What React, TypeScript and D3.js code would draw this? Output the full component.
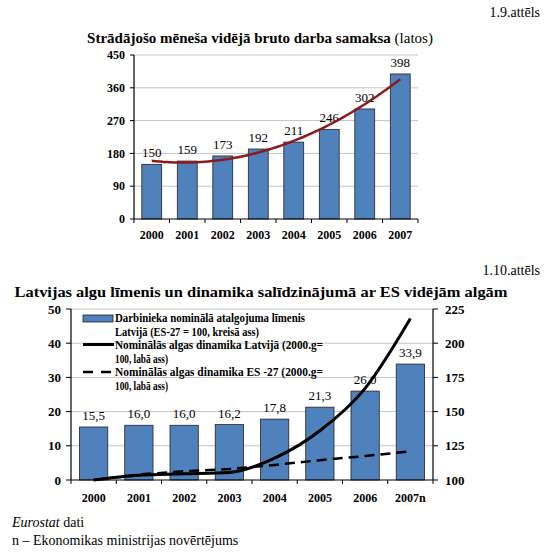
import * as d3 from 'd3';

// 1.9. attēls — vidējā bruto darba samaksa (latos)
const years = ['2000', '2001', '2002', '2003', '2004', '2005', '2006', '2007'];
const wages = [150, 159, 173, 192, 211, 246, 302, 398];
const wageTicks = [0, 90, 180, 270, 360, 450];

// 1.10. attēls — algu līmenis un dinamika
const years2 = ['2000', '2001', '2002', '2003', '2004', '2005', '2006', '2007n'];
const levelLv = [15.5, 16.0, 16.0, 16.2, 17.8, 21.3, 26.0, 33.9];
const dynLv = [100, 103.5, 104.5, 105.5, 116, 136, 167, 218];
const dynEu = [100, 104, 106.5, 108, 111, 114.5, 117.5, 121];
const leftTicks = [0, 10, 20, 30, 40, 50];
const rightTicks = [100, 125, 150, 175, 200, 225];

const legendLines = [
  'Darbinieka nominālā atalgojuma līmenis',
  'Latvijā (ES-27 = 100, kreisā ass)',
  'Nominālās algas dinamika Latvijā (2000.g=',
  '100, labā ass)',
  'Nominālās algas dinamika ES -27 (2000.g=',
  '100, labā ass)',
];

const serif = '"Liberation Serif", "Times New Roman", serif';
const barFill = '#4f81bd';
const gridColor = '#c4c4c4';

// quadratic least-squares trend (as Excel's polynomial trendline)
function quadFit(ys: number[]) {
  const s = [0, 0, 0, 0, 0];
  const t = [0, 0, 0];
  ys.forEach((v, x) => {
    for (let k = 0; k < 5; k++) s[k] += Math.pow(x, k);
    for (let k = 0; k < 3; k++) t[k] += Math.pow(x, k) * v;
  });
  const m = [
    [s[0], s[1], s[2], t[0]],
    [s[1], s[2], s[3], t[1]],
    [s[2], s[3], s[4], t[2]],
  ];
  for (let i = 0; i < 3; i++) {
    for (let j = i + 1; j < 3; j++) {
      const f = m[j][i] / m[i][i];
      for (let k = i; k < 4; k++) m[j][k] -= f * m[i][k];
    }
  }
  const c = [0, 0, 0];
  for (let i = 2; i >= 0; i--) {
    let v = m[i][3];
    for (let k = i + 1; k < 3; k++) v -= m[i][k] * c[k];
    c[i] = v / m[i][i];
  }
  return (x: number) => c[0] + c[1] * x + c[2] * x * x;
}

function TopChart() {
  const x = d3.scaleBand<string>().domain(years).range([134, 418]).paddingInner(0.44).paddingOuter(0.22);
  const y = d3.scaleLinear().domain([0, 450]).range([219, 55]);
  const fit = quadFit(wages);
  const step = x.step();
  const x0 = x(years[0])! + x.bandwidth() / 2;
  const trendPts = d3.range(0, years.length - 1 + 0.001, 0.1).map((i) => [x0 + i * step, y(fit(i))] as [number, number]);
  const trend = d3.line().curve(d3.curveMonotoneX)(trendPts)!;

  return (
    <g>
      <text x={540} y={17} textAnchor="end" fontSize={14} fontFamily={serif}>1.9.attēls</text>
      <text x={260} y={43} textAnchor="middle" fontSize={15} fontFamily={serif}>
        <tspan fontWeight="bold">Strādājošo mēneša vidējā bruto darba samaksa</tspan>
        <tspan> (latos)</tspan>
      </text>
      {wageTicks.map((t) => (
        <g key={t}>
          {t > 0 && <line x1={134} x2={418} y1={y(t)} y2={y(t)} stroke={gridColor} strokeWidth={1} />}
          <line x1={130} x2={134} y1={y(t)} y2={y(t)} stroke="#000" />
          <text x={125} y={y(t)} dy="0.35em" textAnchor="end" fontSize={12} fontWeight="bold" fontFamily={serif}>{t}</text>
        </g>
      ))}
      {years.map((yr, i) => (
        <g key={yr}>
          <rect x={x(yr)} y={y(wages[i])} width={x.bandwidth()} height={y(0) - y(wages[i])} fill={barFill} stroke="#222" strokeWidth={0.8} />
          <text x={x(yr)! + x.bandwidth() / 2} y={y(wages[i]) - 7} textAnchor="middle" fontSize={13} fontFamily={serif}>{wages[i]}</text>
          <text x={x(yr)! + x.bandwidth() / 2} y={239} textAnchor="middle" fontSize={12} fontWeight="bold" fontFamily={serif}>{yr}</text>
        </g>
      ))}
      <path d={trend} fill="none" stroke="#8b1a1a" strokeWidth={2.5} />
      <line x1={134} x2={134} y1={55} y2={219} stroke="#000" strokeWidth={1.2} />
      <line x1={134} x2={418} y1={219} y2={219} stroke="#000" strokeWidth={1.2} />
      {d3.range(years.length + 1).map((i) => (
        <line key={i} x1={134 + i * step} x2={134 + i * step} y1={219} y2={223} stroke="#000" />
      ))}
    </g>
  );
}

function BottomChart() {
  const x = d3.scaleBand<string>().domain(years2).range([71, 433]).paddingInner(0.375).paddingOuter(0.1875);
  const yL = d3.scaleLinear().domain([0, 50]).range([480, 309]);
  const yR = d3.scaleLinear().domain([100, 225]).range([480, 309]);
  const step = x.step();
  const cx = (yr: string) => x(yr)! + x.bandwidth() / 2;
  const lineLv = d3.line<number>().x((_, i) => cx(years2[i])).y((d) => yR(d)).curve(d3.curveMonotoneX)(dynLv)!;
  const lineEu = d3.line<number>().x((_, i) => cx(years2[i])).y((d) => yR(d))(dynEu)!;
  const fmt = (v: number) => v.toFixed(1).replace('.', ',');
  const legendY = [318, 331.5, 344.5, 358.5, 372, 385.5];
  const legendW = [190, 144, 208, 53, 208, 53];

  return (
    <g>
      <text x={540} y={275} textAnchor="end" fontSize={14} fontFamily={serif}>1.10.attēls</text>
      <text x={261} y={297} textAnchor="middle" fontSize={15.5} fontWeight="bold" fontFamily={serif} textLength={493} lengthAdjust="spacingAndGlyphs">
        Latvijas algu līmenis un dinamika salīdzinājumā ar ES vidējām algām
      </text>
      {leftTicks.map((t) => (
        <g key={t}>
          {t > 0 && <line x1={71} x2={433} y1={yL(t)} y2={yL(t)} stroke={gridColor} strokeWidth={1} />}
          <line x1={66} x2={71} y1={yL(t)} y2={yL(t)} stroke="#000" />
          <text x={61} y={yL(t)} dy="0.35em" textAnchor="end" fontSize={13} fontWeight="bold" fontFamily={serif}>{t}</text>
        </g>
      ))}
      {rightTicks.map((t) => (
        <g key={t}>
          <line x1={433} x2={438} y1={yR(t)} y2={yR(t)} stroke="#000" />
          <text x={445} y={yR(t)} dy="0.35em" textAnchor="start" fontSize={13} fontWeight="bold" fontFamily={serif}>{t}</text>
        </g>
      ))}
      {years2.map((yr, i) => (
        <g key={yr}>
          <rect x={x(yr)} y={yL(levelLv[i])} width={x.bandwidth()} height={yL(0) - yL(levelLv[i])} fill={barFill} stroke="#222" strokeWidth={0.8} />
          <text x={cx(yr)} y={yL(levelLv[i]) - 7} textAnchor="middle" fontSize={13} fontFamily={serif}>{fmt(levelLv[i])}</text>
          <text x={cx(yr)} y={502} textAnchor="middle" fontSize={12} fontWeight="bold" fontFamily={serif}>{yr}</text>
        </g>
      ))}
      <path d={lineEu} fill="none" stroke="#000" strokeWidth={2.5} strokeDasharray="10,6" />
      <path d={lineLv} fill="none" stroke="#000" strokeWidth={3} />
      <line x1={71} x2={71} y1={309} y2={480} stroke="#000" strokeWidth={1.2} />
      <line x1={433} x2={433} y1={309} y2={480} stroke="#000" strokeWidth={1.2} />
      <line x1={71} x2={433} y1={480} y2={480} stroke="#000" strokeWidth={1.2} />
      {d3.range(years2.length + 1).map((i) => (
        <line key={i} x1={71 + i * step} x2={71 + i * step} y1={480} y2={484} stroke="#000" />
      ))}
      {/* legend */}
      <rect x={83} y={315} width={30} height={7} fill={barFill} stroke="#222" strokeWidth={0.8} />
      <line x1={83} x2={114} y1={344.5} y2={344.5} stroke="#000" strokeWidth={3} />
      <line x1={83} x2={114} y1={372} y2={372} stroke="#000" strokeWidth={2.5} strokeDasharray="10,8" />
      {legendLines.map((s, i) => (
        <text key={i} x={115} y={legendY[i]} dy="0.35em" fontSize={11.5} fontWeight="bold" fontFamily={serif} textLength={legendW[i]} lengthAdjust="spacingAndGlyphs">{s}</text>
      ))}
    </g>
  );
}

export default function App() {
  return (
    <svg width={550} height={553} style={{ position: 'absolute', left: 0, top: 0, background: '#fff' }}>
      <rect width={550} height={553} fill="#fff" />
      <TopChart />
      <BottomChart />
      <text x={12} y={527} fontSize={14} fontFamily={serif}>
        <tspan fontStyle="italic">Eurostat</tspan>
        <tspan> dati</tspan>
      </text>
      <text x={12} y={545} fontSize={14} fontFamily={serif}>n – Ekonomikas ministrijas novērtējums</text>
    </svg>
  );
}
